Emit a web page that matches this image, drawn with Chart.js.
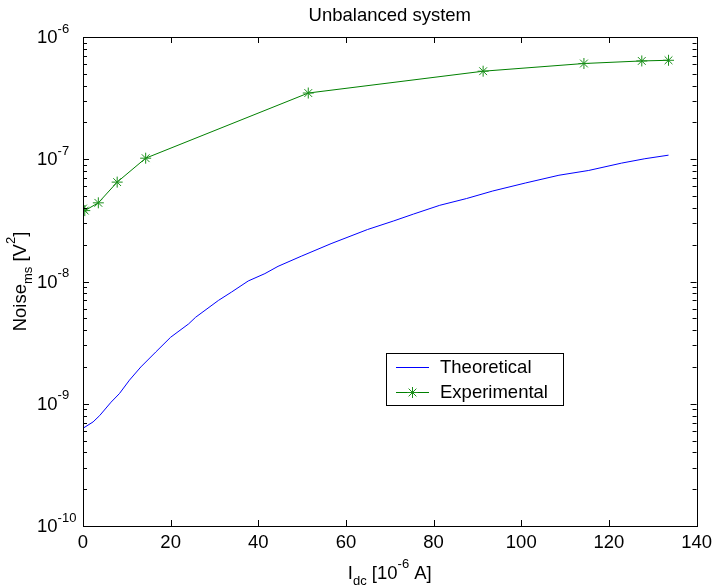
<!DOCTYPE html>
<html><head><meta charset="utf-8">
<script src="https://cdn.jsdelivr.net/npm/chart.js@4.4.1/dist/chart.umd.min.js"></script>
<style>html,body{margin:0;padding:0;background:#fff}#wrap{width:718px;height:588px}</style>
</head><body><div id="wrap"><canvas id="c" width="718" height="588"></canvas></div>
<script>
const titleText = 'Unbalanced system';
const seriesNames = ['Theoretical', 'Experimental'];
const xTicks = [0, 20, 40, 60, 80, 100, 120, 140];
const yDecades = [-10, -9, -8, -7, -6];
const theoX = [0, 2.3, 3.8, 6.4, 8.3, 10.6, 13.2, 16.6, 20, 24.1, 25.7, 30.9, 33.9, 37.7, 41.5, 44.5, 49.8, 56.6, 64.9, 70.9, 75.4, 81.4, 87.5, 93.5, 101, 108.6, 115.4, 122.9, 128.2, 133.6];
const theoY = [6.3e-10, 7.1e-10, 8.0e-10, 1.03e-9, 1.21e-9, 1.56e-9, 2.0e-9, 2.65e-9, 3.5e-9, 4.5e-9, 5.1e-9, 7.0e-9, 8.2e-9, 1.01e-8, 1.16e-8, 1.33e-8, 1.61e-8, 2.04e-8, 2.66e-8, 3.13e-8, 3.56e-8, 4.2e-8, 4.77e-8, 5.5e-8, 6.4e-8, 7.4e-8, 8.1e-8, 9.3e-8, 1.01e-7, 1.08e-7];
const expX = [0, 0.4, 3.5, 7.8, 14.3, 51.4, 91.3, 114.3, 127.5, 133.6];
const expY = [3.95e-8, 3.8e-8, 4.4e-8, 6.5e-8, 1.02e-7, 3.48e-7, 5.25e-7, 6.07e-7, 6.37e-7, 6.45e-7];

const FONT = '"Liberation Sans", Arial, Helvetica, sans-serif';
const MAIN = 18.5, SMALL = 13;

function rich(ctx, parts, x, y, align) {
  let w = 0;
  parts.forEach(p => { ctx.font = p[1] + 'px ' + FONT; p.w = ctx.measureText(p[0]).width; w += p.w; });
  let cx = align === 'center' ? x - w / 2 : (align === 'right' ? x - w : x);
  ctx.textAlign = 'left'; ctx.textBaseline = 'alphabetic';
  parts.forEach(p => { ctx.font = p[1] + 'px ' + FONT; ctx.fillText(p[0], cx, y + p[2]); cx += p.w; });
}

const decor = {
  id: 'decor',
  afterDatasetsDraw(chart) {
    const ctx = chart.ctx, a = chart.chartArea;
    const xs = chart.scales.x, ys = chart.scales.y;
    ctx.save();
    ctx.strokeStyle = '#000'; ctx.fillStyle = '#000'; ctx.lineWidth = 1;
    ctx.strokeRect(Math.round(a.left) + 0.5, Math.round(a.top) + 0.5, Math.round(a.right - a.left), Math.round(a.bottom - a.top));
    ctx.beginPath();
    xTicks.forEach(v => {
      const px = Math.round(xs.getPixelForValue(v)) + 0.5;
      ctx.moveTo(px, a.bottom); ctx.lineTo(px, a.bottom - 6);
      ctx.moveTo(px, a.top); ctx.lineTo(px, a.top + 6);
    });
    yDecades.forEach(d => {
      for (let m = 1; m <= 9; m++) {
        if (d === yDecades[yDecades.length - 1] && m > 1) break;
        const py = Math.round(ys.getPixelForValue(m * Math.pow(10, d))) + 0.5;
        const len = m === 1 ? 6 : 4;
        ctx.moveTo(a.left, py); ctx.lineTo(a.left + len, py);
        ctx.moveTo(a.right, py); ctx.lineTo(a.right - len, py);
      }
    });
    ctx.stroke();
    yDecades.forEach(d => {
      const py = ys.getPixelForValue(Math.pow(10, d));
      rich(ctx, [['10', MAIN, 0], [String(d), SMALL, -10.5]], 37, py + 6, 'left');
    });
    const cxm = (a.left + a.right) / 2;
    rich(ctx, [[titleText, MAIN, 0]], cxm, 21, 'center');
    rich(ctx, [['I', MAIN, 0], ['dc', SMALL, 5.5], [' [10', MAIN, 0], ['-6', SMALL, -11], [' A]', MAIN, 0]], cxm, 579, 'center');
    ctx.save();
    ctx.translate(26, (a.top + a.bottom) / 2);
    ctx.rotate(-Math.PI / 2);
    rich(ctx, [['Noise', MAIN, 0], ['ms', SMALL, 5.5], [' [V', MAIN, 0], ['2', SMALL, -11], [']', MAIN, 0]], 0, 0, 'center');
    ctx.restore();
    const lx = 386, ly = 353, lw = 177, lh = 52;
    ctx.fillStyle = '#fff';
    ctx.fillRect(lx, ly, lw, lh);
    ctx.strokeStyle = '#000'; ctx.lineWidth = 1;
    ctx.strokeRect(lx + 0.5, ly + 0.5, lw, lh);
    chart.data.datasets.forEach((ds, i) => {
      const ry = ly + 14 + i * 25;
      ctx.strokeStyle = ds.borderColor; ctx.lineWidth = 1;
      ctx.beginPath(); ctx.moveTo(396, ry + 0.5); ctx.lineTo(429, ry + 0.5); ctx.stroke();
      if (ds.pointRadius > 0) {
        const r = ds.pointRadius, cx = 412.5, cy = ry + 0.5;
        ctx.strokeStyle = ds.pointBorderColor;
        ctx.beginPath();
        ctx.moveTo(cx - r, cy); ctx.lineTo(cx + r, cy);
        ctx.moveTo(cx, cy - r); ctx.lineTo(cx, cy + r);
        const q = r * Math.SQRT1_2;
        ctx.moveTo(cx - q, cy - q); ctx.lineTo(cx + q, cy + q);
        ctx.moveTo(cx - q, cy + q); ctx.lineTo(cx + q, cy - q);
        ctx.stroke();
      }
      ctx.fillStyle = '#000';
      ctx.font = MAIN + 'px ' + FONT;
      ctx.textAlign = 'left'; ctx.textBaseline = 'middle';
      ctx.fillText(ds.label, 440, ry + 1);
    });
    ctx.restore();
  }
};

new Chart(document.getElementById('c'), {
  type: 'line',
  data: {
    datasets: [
      { label: seriesNames[0], data: theoX.map((x, i) => ({ x, y: theoY[i] })), borderColor: '#0000ff', borderWidth: 1, pointRadius: 0, tension: 0, fill: false },
      { label: seriesNames[1], data: expX.map((x, i) => ({ x, y: expY[i] })), borderColor: '#008000', borderWidth: 1, pointStyle: 'star', pointRadius: 5.5, pointBorderColor: '#1a8f1a', pointBorderWidth: 1, pointBackgroundColor: '#1a8f1a', tension: 0, fill: false }
    ]
  },
  options: {
    responsive: false, animation: false, devicePixelRatio: 1,
    layout: { padding: { left: 83, right: 16, top: 37, bottom: 0 } },
    plugins: { legend: { display: false }, title: { display: false }, tooltip: { enabled: false } },
    scales: {
      x: {
        type: 'linear', min: 0, max: 140,
        afterBuildTicks: s => { s.ticks = xTicks.map(v => ({ value: v })); },
        ticks: { color: '#000', font: { family: FONT, size: MAIN }, padding: 6, maxRotation: 0, autoSkip: false },
        grid: { display: false, drawTicks: false }, border: { display: false },
        afterFit: s => { s.height = 62; }
      },
      y: {
        type: 'logarithmic', min: 1e-10, max: 1e-6,
        ticks: { display: false }, grid: { display: false, drawTicks: false }, border: { display: false },
        afterFit: s => { s.width = 0; }
      }
    }
  },
  plugins: [decor]
});
</script></body></html>
